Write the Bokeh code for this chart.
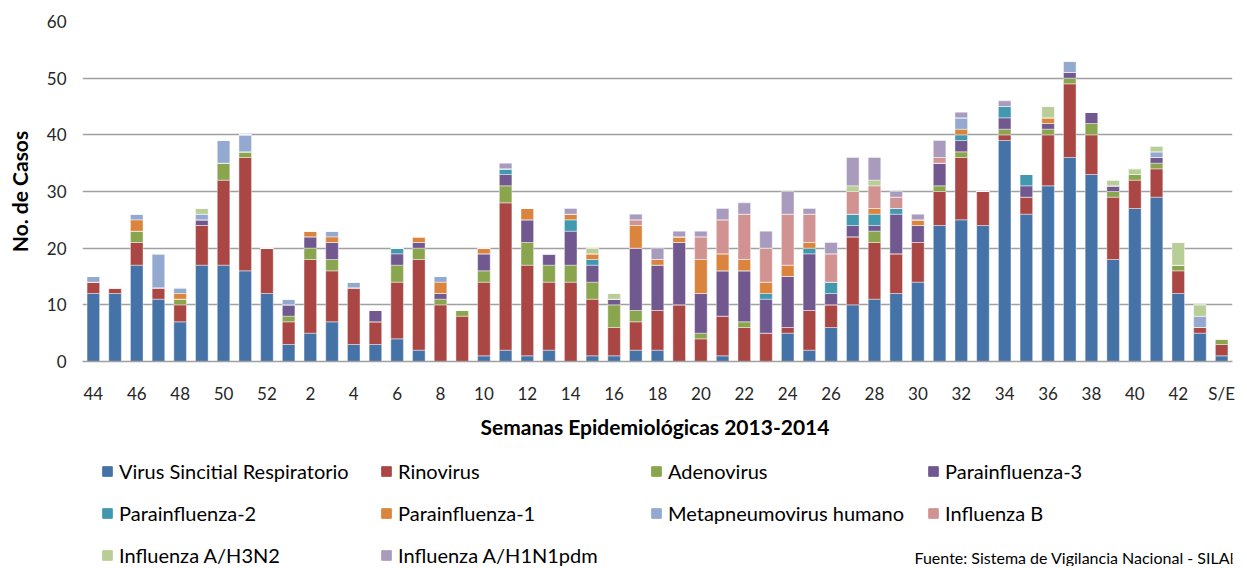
from bokeh.plotting import figure
from bokeh.layouts import column
from bokeh.models import (Range1d, ColumnDataSource, Legend, LegendItem, Label, FixedTicker)
from bokeh.embed import file_html
from bokeh.resources import INLINE

weeks = ["44", "45", "46", "47", "48", "49", "50", "51", "52",
         "1", "2", "3", "4", "5", "6", "7", "8", "9", "10",
         "11", "12", "13", "14", "15", "16", "17", "18", "19", "20",
         "21", "22", "23", "24", "25", "26", "27", "28", "29", "30",
         "31", "32", "33", "34", "35", "36", "37", "38", "39", "40",
         "41", "42", "43", "S/E"]

series_names = ["Virus Sincitial Respiratorio", "Rinovirus", "Adenovirus", "Parainfluenza-3",
                "Parainfluenza-2", "Parainfluenza-1", "Metapneumovirus humano", "Influenza B",
                "Influenza A/H3N2", "Influenza A/H1N1pdm"]

vsr = [12, 12, 17, 11, 7, 17, 17, 16, 12,
       3, 5, 7, 3, 3, 4, 2, 0, 0, 1,
       2, 1, 2, 0, 1, 1, 2, 2, 0, 0,
       1, 0, 0, 5, 2, 6, 10, 11, 12, 14,
       24, 25, 24, 39, 26, 31, 36, 33, 18, 27,
       29, 12, 5, 1]
rino = [2, 1, 4, 2, 3, 7, 15, 20, 8,
        4, 13, 9, 10, 4, 10, 16, 10, 8, 13,
        26, 16, 12, 14, 10, 5, 5, 7, 10, 4,
        7, 6, 5, 1, 7, 4, 12, 10, 7, 7,
        6, 11, 6, 1, 3, 9, 13, 7, 11, 5,
        5, 4, 1, 2]
adeno = [0, 0, 2, 0, 1, 0, 3, 1, 0,
         1, 2, 2, 0, 0, 3, 2, 1, 1, 2,
         3, 4, 3, 3, 3, 4, 2, 0, 0, 1,
         0, 1, 0, 0, 0, 0, 0, 2, 0, 0,
         1, 1, 0, 1, 0, 1, 1, 2, 1, 1,
         1, 1, 0, 1]
pi3 = [0, 0, 0, 0, 0, 1, 0, 0, 0,
       2, 2, 3, 0, 2, 2, 1, 1, 0, 3,
       2, 4, 2, 6, 3, 1, 11, 8, 11, 7,
       8, 9, 6, 9, 10, 2, 2, 1, 7, 3,
       4, 2, 0, 2, 2, 1, 1, 2, 1, 0,
       1, 0, 0, 0]
pi2 = [0, 0, 0, 0, 0, 0, 0, 0, 0,
       0, 0, 0, 0, 0, 1, 0, 0, 0, 0,
       1, 0, 0, 2, 1, 0, 0, 0, 0, 0,
       0, 0, 1, 0, 1, 2, 2, 2, 1, 0,
       0, 1, 0, 2, 2, 0, 0, 0, 0, 0,
       0, 0, 0, 0]
pi1 = [0, 0, 2, 0, 1, 0, 0, 0, 0,
       0, 1, 1, 0, 0, 0, 1, 2, 0, 1,
       0, 2, 0, 1, 1, 0, 4, 1, 1, 6,
       3, 2, 2, 2, 1, 0, 0, 1, 0, 1,
       0, 1, 0, 0, 0, 1, 0, 0, 0, 0,
       0, 0, 0, 0]
meta = [1, 0, 1, 6, 1, 1, 4, 3, 0,
        1, 0, 1, 1, 0, 0, 0, 1, 0, 0,
        0, 0, 0, 0, 0, 0, 0, 0, 0, 0,
        0, 0, 0, 0, 0, 0, 0, 0, 0, 0,
        0, 2, 0, 0, 0, 0, 2, 0, 0, 0,
        1, 0, 2, 0]
infb = [0, 0, 0, 0, 0, 0, 0, 0, 0,
        0, 0, 0, 0, 0, 0, 0, 0, 0, 0,
        0, 0, 0, 0, 0, 0, 1, 0, 0, 4,
        6, 8, 6, 9, 5, 5, 4, 4, 2, 0,
        1, 0, 0, 0, 0, 0, 0, 0, 0, 0,
        0, 0, 0, 0]
h3n2 = [0, 0, 0, 0, 0, 1, 0, 0, 0,
        0, 0, 0, 0, 0, 0, 0, 0, 0, 0,
        0, 0, 0, 0, 1, 1, 0, 0, 0, 0,
        0, 0, 0, 0, 0, 0, 1, 1, 0, 0,
        0, 0, 0, 0, 0, 2, 0, 0, 1, 1,
        1, 4, 2, 0]
h1n1 = [0, 0, 0, 0, 0, 0, 0, 0, 0,
        0, 0, 0, 0, 0, 0, 0, 0, 0, 0,
        1, 0, 0, 1, 0, 0, 1, 2, 1, 1,
        2, 2, 3, 4, 1, 2, 5, 4, 1, 1,
        3, 1, 0, 1, 0, 0, 0, 0, 0, 0,
        0, 0, 0, 0]

colors = ["#4572A7", "#AA4643", "#89A54E", "#71588F", "#4198AF",
          "#DB843D", "#93A9CF", "#D19392", "#B9CD96", "#A99BBD"]

keys = ["vsr", "rino", "adeno", "pi3", "pi2", "pi1", "meta", "infb", "h3n2", "h1n1"]
positions = list(range(len(weeks)))
data = dict(pos=positions, week=weeks, vsr=vsr, rino=rino, adeno=adeno, pi3=pi3, pi2=pi2,
            pi1=pi1, meta=meta, infb=infb, h3n2=h3n2, h1n1=h1n1)
source = ColumnDataSource(data)

FONT = "Lato"
W = 1240
H1 = 447
H2 = 119

# ---------------- main chart ----------------
p = figure(x_range=Range1d(-0.5, len(weeks) - 0.5), y_range=Range1d(0, 60),
           width=W, height=H1, output_backend="svg", toolbar_location=None,
           min_border_left=82, min_border_right=8, min_border_top=21,
           min_border_bottom=H1 - 361)
p.outline_line_color = None

p.vbar_stack(keys, x="pos", width=0.58, color=colors, source=source,
             line_color="white", line_width=0.7, line_alpha=0.6)

p.xgrid.visible = False
p.ygrid.grid_line_color = "#a0a0a0"
p.ygrid.grid_line_width = 1.5

p.yaxis.ticker = [0, 10, 20, 30, 40, 50, 60]
p.yaxis.axis_line_color = None
p.yaxis.major_tick_line_color = None
p.yaxis.minor_tick_line_color = None
p.yaxis.major_label_text_font = FONT
p.yaxis.major_label_text_font_size = "17px"
p.yaxis.major_label_text_color = "#262626"
p.yaxis.major_label_standoff = 10
p.yaxis.axis_label = "No. de Casos"
p.yaxis.axis_label_text_font = FONT
p.yaxis.axis_label_text_font_size = "21px"
p.yaxis.axis_label_text_font_style = "bold"
p.yaxis.axis_label_text_color = "black"
p.yaxis.axis_label_standoff = 12

p.xaxis.ticker = FixedTicker(ticks=positions[::2])
p.xaxis.major_label_overrides = {i: weeks[i] for i in positions}
p.xaxis.axis_line_color = "#a0a0a0"
p.xaxis.axis_line_width = 1.5
p.xaxis.major_tick_line_color = None
p.xaxis.minor_tick_line_color = None
p.xaxis.major_label_text_font = FONT
p.xaxis.major_label_text_font_size = "17px"
p.xaxis.major_label_text_color = "#262626"
p.xaxis.major_label_standoff = 15
p.xaxis.axis_label = "Semanas Epidemiológicas  2013-2014"
p.xaxis.axis_label_text_font = FONT
p.xaxis.axis_label_text_font_size = "21px"
p.xaxis.axis_label_text_font_style = "bold"
p.xaxis.axis_label_text_color = "black"
p.xaxis.axis_label_standoff = 7

# ---------------- legend strip ----------------
q = figure(x_range=Range1d(0, 1), y_range=Range1d(0, 1), width=W, height=H2,
           output_backend="svg", toolbar_location=None,
           x_axis_location=None, y_axis_location=None,
           min_border_left=0, min_border_right=0, min_border_top=0, min_border_bottom=0)
q.outline_line_color = None
q.xgrid.visible = False
q.ygrid.visible = False

# hidden copies of the series, used only as legend swatches
swatches = q.vbar_stack(keys, x="pos", width=0.58, color=colors, source=source)
for r in swatches:
    r.visible = False

columns = [([0, 4, 8], 19), ([1, 5, 9], 298), ([2, 6], 568), ([3, 7], 845)]
for idx, xpos in columns:
    n = len(idx)
    height = n * 24 + (n - 1) * 18
    bottom = H2 - 12 - height
    leg = Legend(items=[LegendItem(label=series_names[i], renderers=[swatches[i]]) for i in idx],
                 location=(xpos, bottom), orientation="vertical",
                 glyph_width=12, glyph_height=12, label_standoff=6, spacing=18,
                 padding=0, margin=0, label_height=24,
                 label_text_font=FONT, label_text_font_size="20px", label_text_color="black",
                 border_line_alpha=0, background_fill_alpha=0,
                 inactive_fill_alpha=0)
    q.add_layout(leg)

src = Label(x=832, y=9, x_units="screen", y_units="screen",
            text="Fuente: Sistema de Vigilancia Nacional - SILAB",
            text_font=FONT, text_font_size="16px", text_color="black",
            text_baseline="middle", text_align="left")
q.add_layout(src)

layout = column(p, q, spacing=0)
open("out.html", "w").write(file_html(layout, INLINE))
